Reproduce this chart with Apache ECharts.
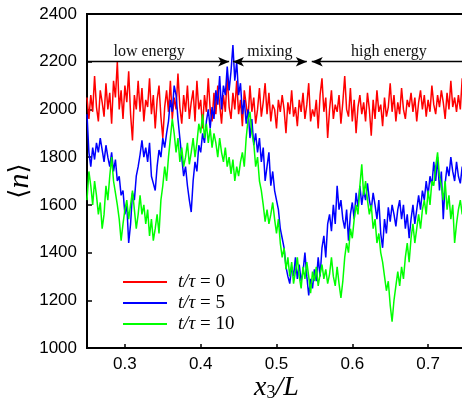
<!DOCTYPE html>
<html>
<head>
<meta charset="utf-8">
<script src="https://cdn.jsdelivr.net/npm/echarts@6/dist/echarts.min.js"></script>
<style>html,body{margin:0;padding:0;background:#fff}#c{width:462px;height:401px}</style>
</head>
<body>
<div id="c"></div>
<script>
// ---- data (x3/L sampled from 0.25 to 0.75, step 0.0025) ----
const xStart = 0.25, xStep = 0.0025;
const seriesNames = ['t/τ = 0', 't/τ = 5', 't/τ = 10'];
const xTicks = [0.3, 0.4, 0.5, 0.6, 0.7];
const yTicks = [1000, 1200, 1400, 1600, 1800, 2000, 2200, 2400];
const regionNames = ['low energy', 'mixing', 'high energy'];
const regionBounds = [[0.25, 0.4375], [0.4425, 0.540], [0.5465, 0.75]];
const regionLevel = 2200;

const red = [
2050,1960,2060,1990, 2140,2010,1950,2080, 2030,1970,2110,2000, 2070,1940,2120,2050,
2200,2000,2080,1960, 2100,2030,2160,1980, 1870,2060,2000,2120, 1990,2090,1950,2040,
2010,2130,1980,2060, 1920,2040,2100,1970, 1880,2010,2080,1990, 2120,1960,2050,2000,
2150,2010,1940,2060, 1990,2100,1960,2030, 2080,1950,2120,2000, 2040,1920,2060,1990,
2130,2000,1950,2070, 1980,2100,2020,1940, 2060,1990,2140,2010, 1960,2070,2000,2120,
1980,2040,1930,2080, 2020,1960,2100,1990, 2050,1940,2000,2090, 1970,2030,2110,1980,
2070,1950,2020,2000, 1920,2040,1990,2060, 2000,1900,2030,1980, 2080,1970,2010,1930,
2040,1990,2070,1960, 2020,2110,1950,2000, 1970,2040,1920,2060, 2130,1990,2050,1880,
2000,2080,1960,2020, 1990,2060,1940,2030, 2140,2000,1970,2090, 1950,2040,1900,2010,
2060,1980,2030,1950, 2070,2000,1890,2040, 1960,2080,1990,2020, 1930,2050,1970,2010,
2110,1990,2060,1950, 2030,1980,2090,2000, 1960,2040,2010,2070, 1990,2050,1950,2030,
2080,2000,2060,1970, 2040,1990,2100,2020, 1980,2060,2010,2080, 2030,1960,2070,2000,
2120,2010,2050,1990, 2060,2000,2130,2030, 2040
];
const blue = [
1980,1820,1760,1840, 1790,1860,1820,1880, 1830,1780,1850,1800, 1760,1820,1740,1790,
1700,1720,1640,1660, 1560,1600,1440,1520, 1650,1620,1720,1760, 1810,1870,1800,1840,
1780,1860,1720,1690, 1660,1760,1830,1800, 1880,1840,1900,1950, 2040,1990,2100,2060,
1960,1880,1800,1720, 1760,1680,1620,1570, 1700,1780,1740,1850, 1820,1900,1860,1950,
2000,1920,2010,1960, 2080,2020,2140,2000, 2100,2060,2180,2080, 2160,2270,2120,2200,
2060,2110,1980,2040, 1940,2000,1880,1960, 1850,1900,1820,1880, 1780,1840,1700,1760,
1820,1680,1740,1660, 1620,1580,1500,1460, 1420,1340,1300,1270, 1340,1300,1380,1290,
1350,1280,1320,1400, 1300,1220,1290,1250, 1330,1280,1380,1300, 1420,1470,1380,1520,
1560,1490,1600,1520, 1680,1580,1620,1540, 1500,1580,1450,1560, 1610,1540,1650,1590,
1680,1600,1660,1620, 1690,1620,1580,1650, 1600,1540,1620,1480, 1420,1540,1480,1590,
1530,1600,1560,1510, 1580,1620,1540,1600, 1500,1560,1460,1540, 1600,1520,1580,1640,
1580,1660,1620,1700, 1640,1720,1680,1780, 1700,1800,1660,1740, 1540,1690,1760,1720,
1800,1740,1700,1780, 1720,1690,1760,1700, 1730
];
const green = [
1620,1740,1680,1600, 1700,1640,1560,1610, 1500,1560,1680,1620, 1720,1800,1700,1650,
1600,1540,1450,1520, 1580,1620,1540,1600, 1660,1580,1500,1560, 1640,1560,1600,1520,
1580,1470,1540,1450, 1500,1560,1480,1620, 1680,1760,1700,1800, 1880,1960,1900,1820,
1880,1780,1840,1760, 1800,1860,1770,1820, 1880,1800,1860,1940, 1900,1980,1880,1940,
1860,1920,1840,1900, 1860,1800,1880,1820, 1780,1840,1760,1800, 1730,1790,1700,1760,
1720,1780,1820,1760, 1880,1960,1990,1900, 1860,1760,1800,1700, 1660,1600,1530,1580,
1520,1560,1610,1540, 1480,1540,1440,1380, 1420,1330,1380,1300, 1360,1270,1320,1380,
1300,1250,1340,1290, 1360,1300,1230,1320, 1280,1340,1260,1310, 1350,1290,1330,1270,
1310,1380,1300,1260, 1340,1270,1210,1280, 1380,1440,1400,1500, 1460,1540,1600,1560,
1680,1770,1640,1700, 1620,1560,1600,1500, 1540,1440,1480,1400, 1360,1300,1240,1280,
1180,1110,1200,1260, 1320,1260,1340,1290, 1380,1440,1360,1460, 1520,1440,1500,1560,
1500,1580,1620,1560, 1660,1600,1700,1680, 1760,1820,1720,1680, 1620,1700,1580,1640,
1540,1600,1440,1520, 1580,1620,1560,1640, 1600
];
const colors = ['#ff0000', '#0000ff', '#00ff00'];

// ---- build ----
const toPairs = arr => arr.map((v, i) => [+(xStart + i * xStep).toFixed(4), v]);
const serif = 'Liberation Serif, Times New Roman, serif';
const sans = 'Liberation Sans, Arial, sans-serif';

const chart = echarts.init(document.getElementById('c'), null, {renderer: 'canvas'});
const dataSets = [red, blue, green];
const lineSeries = dataSets.map((arr, k) => ({
  name: seriesNames[k], type: 'line', data: toPairs(arr), showSymbol: false, symbol: 'none',
  lineStyle: {color: colors[k], width: 1.5}, itemStyle: {color: colors[k]}, z: 2 + k
}));

const mlData = regionBounds.map((b, k) => [
  {coord: [b[0], regionLevel], name: regionNames[k], symbol: k === 0 ? 'none' : 'arrow',
   label: {offset: k === 0 ? [-9, 0] : [0, 0]}},
  {coord: [b[1], regionLevel], symbol: k === 2 ? 'none' : 'arrow'}
]);

const option = {
  animation: false,
  backgroundColor: '#ffffff',
  grid: {left: 87, right: -4, top: 14, bottom: 53, show: true, borderColor: '#000', borderWidth: 2,
    backgroundColor: 'transparent', containLabel: false, outerBoundsMode: 'none'},
  xAxis: {
    type: 'value', min: 0.25, max: 0.75,
    axisLine: {show: false}, splitLine: {show: false},
    axisTick: {show: true, inside: true, length: 4, customValues: xTicks, lineStyle: {color: '#000', width: 1.5}},
    axisLabel: {customValues: xTicks, color: '#000', fontFamily: sans, fontSize: 17, margin: 8, formatter: v => v.toFixed(1)},
    name: '{i|x}{s|3}{i|/L}', nameLocation: 'middle', nameGap: 21, nameMoveOverlap: false,
    nameTextStyle: {rich: {
      i: {fontFamily: serif, fontStyle: 'italic', fontSize: 28, color: '#000', height: 28},
      s: {fontFamily: serif, fontSize: 18, color: '#000', height: 28, padding: [10, 0, 0, 0]}
    }}
  },
  yAxis: {
    type: 'value', min: 1000, max: 2400, interval: 200,
    axisLine: {show: false}, splitLine: {show: false},
    axisTick: {show: true, inside: true, length: 5, lineStyle: {color: '#000', width: 1.5}},
    axisLabel: {color: '#000', fontFamily: sans, fontSize: 17, margin: 10, formatter: v => String(v)},
    name: '{b|⟨}{n|n}{b|⟩}', nameLocation: 'middle', nameRotate: 90, nameGap: 52, nameMoveOverlap: false,
    nameTextStyle: {rich: {
      b: {fontFamily: 'DejaVu Serif, serif', fontSize: 26, color: '#000'},
      n: {fontFamily: serif, fontStyle: 'italic', fontSize: 30, color: '#000'}
    }}
  },
  legend: {
    left: 118, top: 267, orient: 'vertical', itemWidth: 44, itemHeight: 2, itemGap: 1, icon: 'rect',
    data: seriesNames,
    formatter: n => '{i|t/τ} {r|= ' + n.split('= ')[1] + '}',
    textStyle: {fontFamily: serif, fontSize: 19, color: '#000', lineHeight: 20, padding: [0, 0, 0, 6],
      rich: {
        i: {fontFamily: serif, fontStyle: 'italic', fontSize: 19, color: '#000', lineHeight: 20},
        r: {fontFamily: serif, fontSize: 19, color: '#000', lineHeight: 20}
      }}
  },
  series: lineSeries.concat([{
    type: 'line', data: [], silent: true, z: 10,
    markLine: {
      silent: true, animation: false, symbolSize: [7, 11],
      lineStyle: {color: '#000', width: 1.3, type: 'solid'},
      label: {show: true, position: 'insideMiddleTop', distance: 2, formatter: '{b}', color: '#111', fontFamily: serif, fontSize: 16},
      emphasis: {disabled: true},
      data: mlData
    }
  }])
};
chart.setOption(option);
</script>
</body>
</html>
